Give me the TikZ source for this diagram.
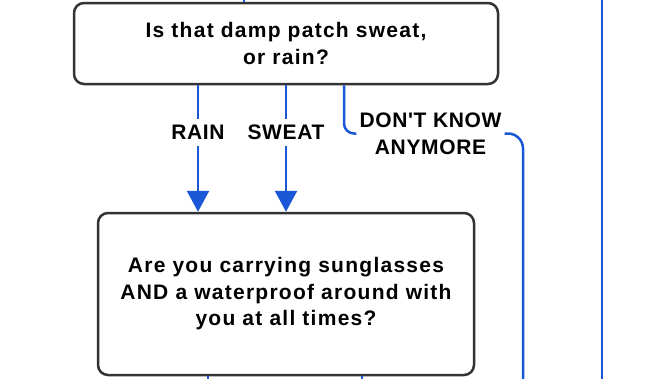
\documentclass[tikz,border=0pt]{standalone}
\usepackage{fontspec}
\setmainfont{Liberation Sans}
\newfontfamily\qfont{Liberation Sans}[LetterSpace=6]
\newfontfamily\lfont{Liberation Sans}[LetterSpace=3]
\usetikzlibrary{arrows.meta}
\definecolor{flowblue}{HTML}{1A57D6}
\definecolor{boxgray}{HTML}{333333}
\tikzset{
  qbox/.style={draw=boxgray, line width=2.5pt, rounded corners=10pt, fill=white,
    align=center, inner sep=0pt, font=\qfont\bfseries\fontsize{21}{26.5}\selectfont},
  conn/.style={draw=flowblue, line width=2.5pt},
  arr/.style={conn, -{Triangle[width=22pt,length=21pt]}},
  lbl/.style={fill=white, inner xsep=3pt, inner ysep=6pt, align=center,
    font=\lfont\bfseries\fontsize{21}{27}\selectfont}
}
\begin{document}
\begin{tikzpicture}[x=1pt,y=-1pt]
\useasboundingbox (0,0) rectangle (650,378);
% boxes
\node[qbox, minimum width=424pt, minimum height=81pt] (q1) at (286,43.5)
  {Is that damp patch sweat,\\or rain?};
\node[qbox, minimum width=376pt, minimum height=162pt] (q2) at (286,294)
  {Are you carrying sunglasses\\AND a waterproof around with\\you at all times?};
% helper coordinates
\coordinate (xr) at (198,0);
\coordinate (xs) at (286,0);
\coordinate (xd) at (344,0);
\coordinate (topin) at (244,-3);
\coordinate (dkend) at (523,381);
\coordinate (rtop) at (602,-3);
\coordinate (rbot) at (602,381);
\coordinate (b1) at (208,381);
\coordinate (b2) at (362,381);
% incoming from above
\draw[conn] (topin) -- (q1.north -| topin);
% RAIN and SWEAT
\draw[arr] (q1.south -| xr) -- node[lbl, pos=0.372] (lrain) {RAIN} (q2.north -| xr);
\draw[arr] (q1.south -| xs) -- node[lbl, pos=0.372] (lsweat) {SWEAT} (q2.north -| xs);
% DON'T KNOW ANYMORE
\node[lbl, inner xsep=3pt, inner ysep=0pt] (dk) at (430.5,133.5) {DON'T KNOW\\ANYMORE};
\draw[conn, rounded corners=10pt] (q1.south -| xd) |- (dk.west);
\draw[conn, rounded corners=15pt] (dk.east) -| (dkend);
% right line
\draw[conn] (rtop) -- (rbot);
% lines leaving the bottom box
\draw[conn] (q2.south -| b1) -- (b1);
\draw[conn] (q2.south -| b2) -- (b2);
\end{tikzpicture}
\end{document}
